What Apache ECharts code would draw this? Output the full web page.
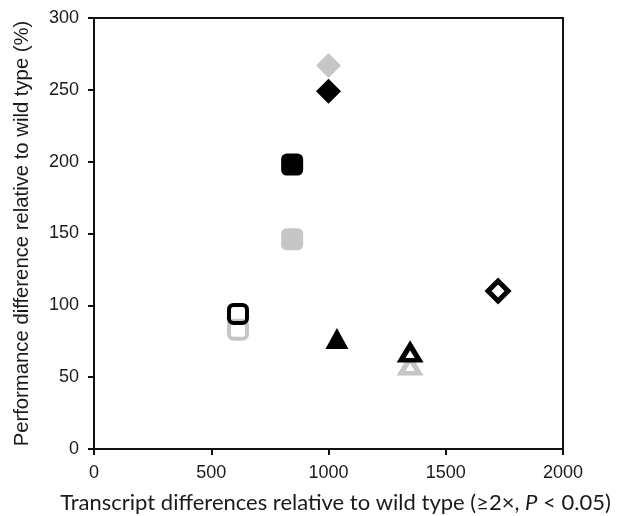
<!DOCTYPE html>
<html>
<head>
<meta charset="utf-8">
<script src="https://cdn.jsdelivr.net/npm/echarts@6/dist/echarts.min.js"></script>
<style>
html,body{margin:0;padding:0;background:#fff;}
#chart{width:619px;height:516px;}
</style>
</head>
<body>
<div id="chart"></div>
<script>
// Data (x: transcript differences, y: performance difference %)
var grayDiamond = [[1000, 267]];
var blackDiamond = [[1000, 249]];
var graySquare = [[845, 146]];
var blackSquare = [[845, 198]];
var openGraySquare = [[614, 83]];
var openBlackSquare = [[614, 94]];
var blackTriangle = [[1036, 77]];
var openGrayTriangle = [[1348, 58]];
var openBlackTriangle = [[1348, 67]];
var openBlackDiamond = [[1723, 110]];
var xTicks = [0, 500, 1000, 1500, 2000];
var yTicks = [0, 50, 100, 150, 200, 250, 300];

var GRAY = '#c6c6c6', BLACK = '#000';
function filled(data, symbol, size, color) {
  return {type: 'scatter', data: data, symbol: symbol, symbolSize: size,
    itemStyle: {color: color, opacity: 1}, z: color === BLACK ? 3 : 2};
}
function open(data, symbol, size, color, bw, fill) {
  return {type: 'scatter', data: data, symbol: symbol, symbolSize: size,
    itemStyle: {color: fill || '#fff', borderColor: color, borderWidth: bw, opacity: 1}, z: color === BLACK ? 5 : 4};
}

var chart = echarts.init(document.getElementById('chart'));
chart.setOption({
  animation: false,
  backgroundColor: '#fff',
  grid: {left: 94, right: 56, top: 18, bottom: 67, containLabel: false, outerBoundsMode: 'none',
    show: true, borderColor: '#111', borderWidth: 2, backgroundColor: 'transparent'},
  xAxis: {
    type: 'value', min: xTicks[0], max: xTicks[xTicks.length - 1], interval: 500,
    splitLine: {show: false},
    axisLine: {show: true, lineStyle: {color: '#111', width: 2}},
    axisTick: {show: true, length: 6, lineStyle: {color: '#111', width: 2}},
    axisLabel: {color: '#1a1a1a', fontFamily: 'Liberation Sans, Arial', fontSize: 18, margin: 15,
      formatter: function (v) { return String(v); }},
    name: '{n|Transcript differences relative to wild type (≥2×, }{i|P}{n| < 0.05)}',
    nameLocation: 'middle', nameGap: 43,
    nameTextStyle: {padding: [0, 0, 0, 14], rich: {
      n: {fontFamily: 'Lato', fontSize: 22, color: '#1a1a1a'},
      i: {fontFamily: 'Lato', fontSize: 22, color: '#1a1a1a', fontStyle: 'italic'}
    }}
  },
  yAxis: {
    type: 'value', min: yTicks[0], max: yTicks[yTicks.length - 1], interval: 50,
    splitLine: {show: false},
    axisLine: {show: true, lineStyle: {color: '#111', width: 2}},
    axisTick: {show: true, length: 6, lineStyle: {color: '#111', width: 2}},
    axisLabel: {color: '#1a1a1a', fontFamily: 'Liberation Sans, Arial', fontSize: 18, margin: 15},
    name: 'Performance difference relative to wild type (%)',
    nameLocation: 'middle', nameGap: 62,
    nameTextStyle: {fontFamily: 'Liberation Sans, Arial', fontSize: 20.3, color: '#1a1a1a'}
  },
  series: [
    filled(grayDiamond, 'diamond', 25, GRAY),
    filled(blackDiamond, 'diamond', 25, BLACK),
    filled(graySquare, 'roundRect', 22, GRAY),
    filled(blackSquare, 'roundRect', 22, BLACK),
    open(openGraySquare, 'roundRect', 18, GRAY, 4),
    open(openBlackSquare, 'roundRect', 18, BLACK, 4, 'rgba(255,255,255,0)'),
    filled(blackTriangle, 'triangle', [23, 21], BLACK),
    open(openGrayTriangle, 'triangle', [18, 15], GRAY, 5),
    open(openBlackTriangle, 'triangle', [18, 15], BLACK, 5),
    open(openBlackDiamond, 'diamond', [20, 20], BLACK, 5)
  ]
});
</script>
</body>
</html>
